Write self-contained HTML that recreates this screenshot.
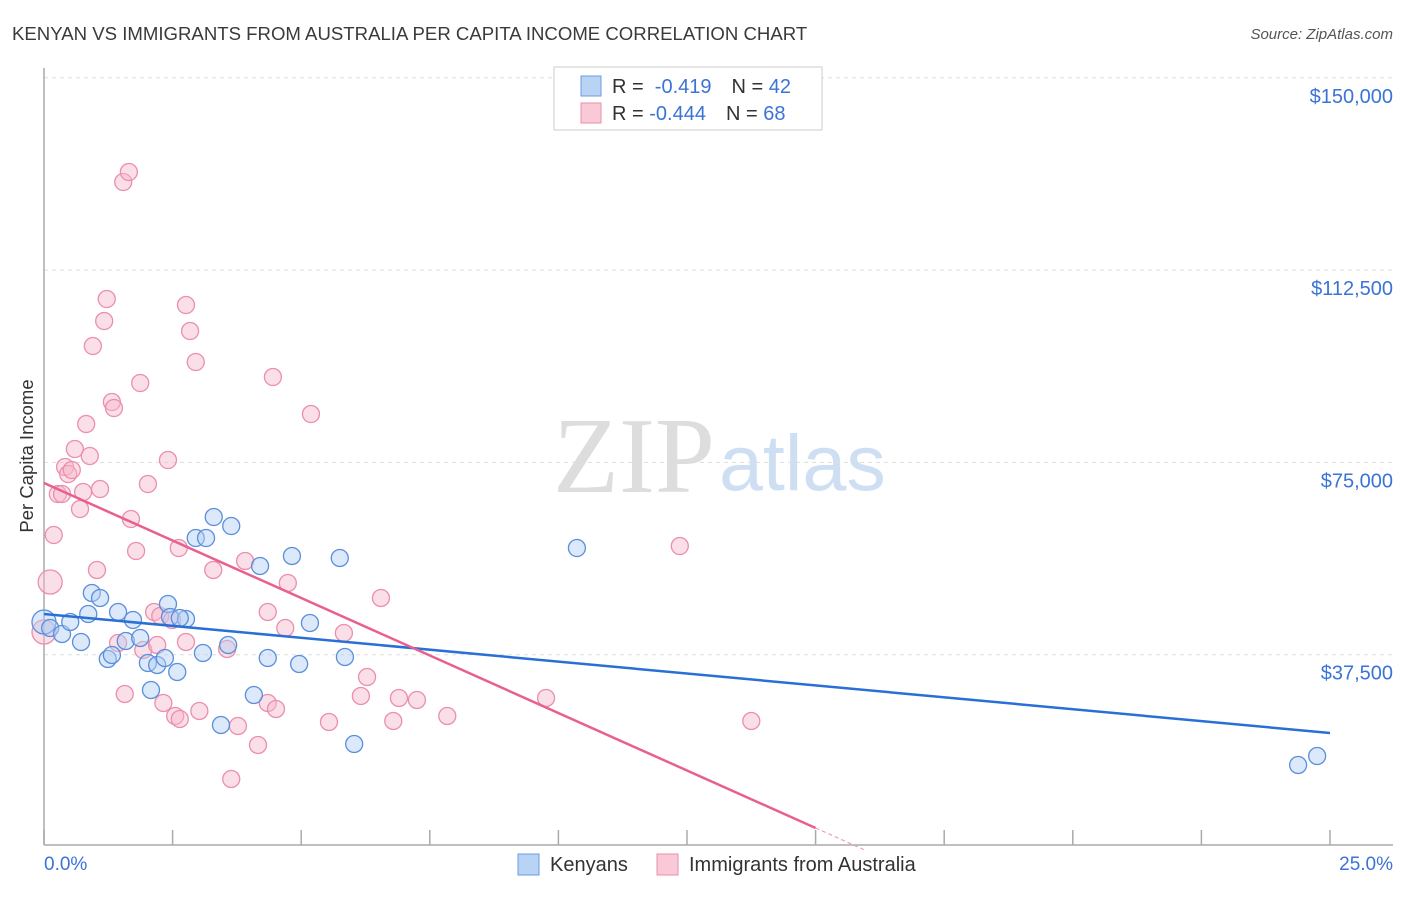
<!DOCTYPE html>
<html><head><meta charset="utf-8"><style>
body{margin:0;background:#fff;font-family:"Liberation Sans",sans-serif}
</style></head><body>
<svg width="1406" height="892" xmlns="http://www.w3.org/2000/svg" font-family="Liberation Sans, sans-serif">
<text x="12" y="40" font-size="18.6" fill="#3a3a3a">KENYAN VS IMMIGRANTS FROM AUSTRALIA PER CAPITA INCOME CORRELATION CHART</text>
<text x="1393" y="39" font-size="15" fill="#555" font-style="italic" text-anchor="end">Source: ZipAtlas.com</text>
<text x="553" y="492" font-size="108" fill="#ddd" font-family="Liberation Serif, serif">ZIP</text>
<text x="719" y="490" font-size="79" fill="#cfdff3">atlas</text>
<g id="grid"></g>
<line x1="44" y1="68" x2="44" y2="845" stroke="#aaa" stroke-width="1.5"/>
<line x1="44" y1="845" x2="1393" y2="845" stroke="#aaa" stroke-width="1.5"/>
<g id="ticks"></g>
<text x="33" y="456" font-size="18.5" fill="#333" text-anchor="middle" transform="rotate(-90 33 456)">Per Capita Income</text>
<text x="44" y="870" font-size="19" fill="#3b73d6">0.0%</text>
<text x="1393" y="870" font-size="19" fill="#3b73d6" text-anchor="end">25.0%</text>
<g id="pts"></g>
<g id="lines"></g>
<g>
<rect x="554" y="67" width="268" height="63" fill="#fff" stroke="#ccc"/>
<rect x="581" y="76" width="20" height="20" fill="#b9d3f5" stroke="#6a9be0"/>
<rect x="581" y="103" width="20" height="20" fill="#f9c9d7" stroke="#ea8fab"/>
<text x="612" y="93" font-size="20" fill="#333">R = <tspan fill="#3b73d6">&#160;-0.419</tspan><tspan dx="20">N = </tspan><tspan fill="#3b73d6">42</tspan></text>
<text x="612" y="120" font-size="20" fill="#333">R = <tspan fill="#3b73d6">-0.444</tspan><tspan dx="20">N = </tspan><tspan fill="#3b73d6">68</tspan></text>
</g>
<g>
<rect x="518" y="854" width="21" height="21" fill="#b9d3f5" stroke="#6a9be0"/>
<text x="550" y="871" font-size="20" fill="#333">Kenyans</text>
<rect x="657" y="854" width="21" height="21" fill="#f9c9d7" stroke="#ea8fab"/>
<text x="689" y="871" font-size="20" fill="#333">Immigrants from Australia</text>
</g>
</svg>
<script>
const yTicks=[37500,75000,112500,150000];
const yTickLabels=["$37,500","$75,000","$112,500","$150,000"];
const xTicks=[0,2.5,5,7.5,10,12.5,15,17.5,20,22.5,25];
const blueX=[0,0.12,0.35,0.51,0.86,0.93,1.09,0.72,1.24,1.32,1.44,1.59,1.73,1.87,2.02,2.08,2.2,2.35,2.41,2.45,2.59,2.76,2.95,3.09,3.15,3.3,3.44,3.58,3.64,4.08,4.2,4.35,4.82,4.96,5.17,5.75,5.85,6.03,10.36,24.38,24.75,2.64];
const blueY=[43875,42705,41535,43875,45435,49530,48555,39975,36660,37440,45825,40170,44265,40755,35880,30615,35490,36855,47385,44850,34125,44460,60255,37830,60255,64350,23790,39390,62595,29640,54795,36855,56745,35685,43680,56355,37050,20085,58305,15990,17745,44655];
const pinkX=[0,0.12,0.19,0.27,0.35,0.41,0.47,0.54,0.6,0.7,0.76,0.82,0.89,0.95,1.03,1.09,1.17,1.22,1.32,1.36,1.44,1.57,1.54,1.65,1.69,1.79,1.87,1.93,2.02,2.14,2.2,2.26,2.32,2.41,2.49,2.55,2.64,2.62,2.76,2.76,2.84,2.95,3.02,3.29,3.56,3.64,3.77,3.91,4.16,4.35,4.35,4.45,4.51,4.69,4.74,5.19,5.54,5.83,6.16,6.28,6.55,6.79,6.9,7.25,7.84,9.76,12.36,13.75];
const pinkY=[41925,51675,60840,68835,68835,74100,72735,73515,77610,65910,69225,82485,76245,97695,54015,69810,102570,106860,86775,85605,39780,29835,129675,131625,63960,57720,90480,38415,70785,45825,39390,45045,28080,75465,44265,25545,24960,58305,105690,39975,100620,94575,26520,54015,38610,13260,23595,55770,19890,45825,28080,91650,26910,42705,51480,84435,24375,41730,29445,33150,48555,24570,29055,28665,25545,29055,58695,24570];
const blueTrend=[45435,22230];
const pinkTrend=[70980,3705];
const NS="http://www.w3.org/2000/svg";
const sx=v=>44+v/25*1286;
const sy=v=>847-v/37500*192.3;
function mk(t,a,p){const e=document.createElementNS(NS,t);for(const k in a)e.setAttribute(k,a[k]);p.appendChild(e);return e;}
const grid=document.getElementById('grid'),ticks=document.getElementById('ticks'),pts=document.getElementById('pts'),lines=document.getElementById('lines');
yTicks.forEach((v,i)=>{
 const g=mk('line',{x1:44,x2:1393,y1:sy(v),y2:sy(v),stroke:'#ddd','stroke-dasharray':'4,4'},grid);
 
 
 const t=mk('text',{x:1393,y:sy(v)+25,'font-size':20,fill:'#3b73d6','text-anchor':'end'},ticks);
 t.textContent=yTickLabels[i];
 
 
});
xTicks.forEach(v=>{
 const l=mk('line',{x1:sx(v),x2:sx(v),y1:845,y2:830,stroke:'#aaa','stroke-width':1.5},ticks);
 
 
});
function dot(x,y,fill,stroke,r,name){
 const c=mk('circle',{cx:sx(x),cy:sy(y),r:r,fill:fill,'fill-opacity':0.45,stroke:stroke,'stroke-width':1.3},pts);
 
 
}
pinkX.forEach((x,i)=>dot(x,pinkY[i],'#f7b8cb','#eb8fab',i<2?12:8.5,'point-australia'));
blueX.forEach((x,i)=>dot(x,blueY[i],'#b2cef3','#5b8fdc',i==0?12:8.5,'point-kenyans'));
const bl=mk('line',{x1:sx(0),y1:sy(blueTrend[0]),x2:sx(25),y2:sy(blueTrend[1]),stroke:'#2a6fd6','stroke-width':2.5},lines);


const pl=mk('line',{x1:sx(0),y1:sy(pinkTrend[0]),x2:sx(15),y2:sy(pinkTrend[1]),stroke:'#e8608e','stroke-width':2.5},lines);


const slope=(pinkTrend[1]-pinkTrend[0])/15;
const pd=mk('line',{x1:sx(15),y1:sy(pinkTrend[1]),x2:sx(15.95),y2:sy(pinkTrend[0]+slope*15.95),stroke:'#e8a0b8','stroke-width':1.2,'stroke-dasharray':'4,3'},lines);


</script>
</body></html>
